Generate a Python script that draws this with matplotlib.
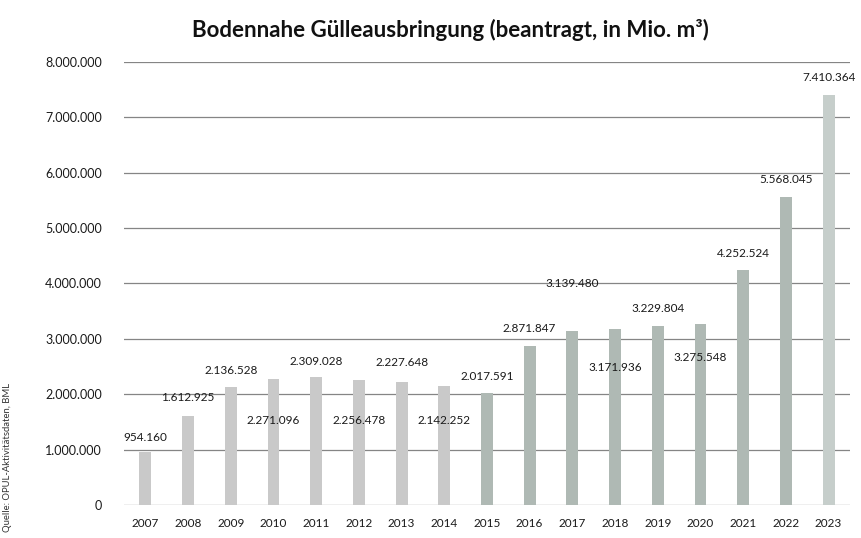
import matplotlib.pyplot as plt
import matplotlib.ticker as mticker

plt.rcParams['font.family'] = ['Lato', 'DejaVu Sans']

years = ['2007', '2008', '2009', '2010', '2011', '2012', '2013', '2014', '2015',
         '2016', '2017', '2018', '2019', '2020', '2021', '2022', '2023']
values = [954160, 1612925, 2136528, 2271096, 2309028, 2256478, 2227648, 2142252,
          2017591, 2871847, 3139480, 3171936, 3229804, 3275548, 4252524, 5568045,
          7410364]
y_ticks = [0, 1000000, 2000000, 3000000, 4000000, 5000000, 6000000, 7000000, 8000000]

# label offsets in pixels relative to bar top (negative = inside the bar)
label_dy = [15, 18, 16, -41, 16, -40, 19, -34, 17, 17, 48, -38, 18, -34, 16, 17, 17]
bar_colors = ['#c9c9c9'] * 8 + ['#afb9b4'] * 8 + ['#c6cecb']


def fmt_de(v):
    return '{:,}'.format(int(v)).replace(',', '.')


fig = plt.figure(figsize=(8.62, 5.38), dpi=100)
ax = fig.add_axes([0.1439, 0.0613, 0.8421, 0.8235])

x = list(range(len(years)))
ax.bar(x, values, width=0.28, color=bar_colors, zorder=2)

for xi, v, dy in zip(x, values, label_dy):
    ax.annotate(fmt_de(v), (xi, v), xytext=(0, dy), textcoords='offset pixels',
                ha='center', va='center', fontsize=8.5, color='#1a1a1a', zorder=3)

ax.set_xlim(-0.5, len(years) - 0.5)
ax.set_ylim(0, 8000000)
ax.set_yticks(y_ticks)
ax.yaxis.set_major_formatter(mticker.FuncFormatter(lambda v, p: fmt_de(v)))
ax.set_xticks(x)
ax.set_xticklabels(years)
ax.tick_params(axis='both', length=0, colors='#1a1a1a')
ax.tick_params(axis='y', pad=16, labelsize=9)
ax.tick_params(axis='x', pad=9, labelsize=8.5)
ax.grid(axis='y', color='#858585', linewidth=0.9, zorder=1)
for s in ax.spines.values():
    s.set_visible(False)

fig.text(0.522, 0.945, 'Bodennahe Gülleausbringung (beantragt, in Mio. m³)',
         ha='center', va='center', fontsize=16, fontweight='bold', color='#111111')
fig.text(0.009, 0.288, 'Quelle: OPUL-Aktivitätsdaten, BML', rotation=90,
         ha='center', va='top', fontsize=6.8, color='#333333')

fig.savefig('out.png', dpi=100)
